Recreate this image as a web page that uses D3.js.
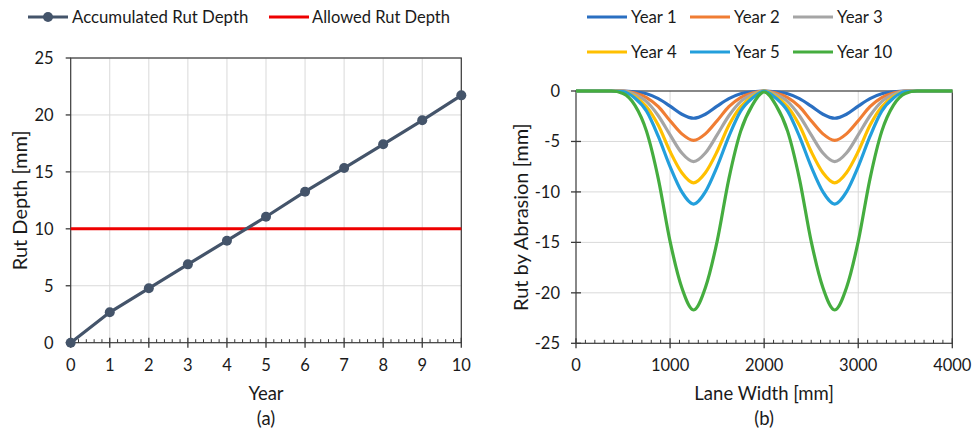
<!DOCTYPE html>
<html><head><meta charset="utf-8">
<script src="https://cdn.jsdelivr.net/npm/d3@7"></script>
<style>
body{margin:0;background:#fff;}
text{font-family:Lato,"Open Sans",sans-serif;fill:#1a1a1a;}
</style></head>
<body><svg id="c" width="973" height="437"></svg>
<script>
// ---- Data (a) ----
const years = [0,1,2,3,4,5,6,7,8,9,10];
const rutDepth = [0,2.67,4.78,6.88,8.96,11.06,13.26,15.34,17.42,19.53,21.72];
const allowedRut = 10;
const yTicksA = [0,5,10,15,20,25];
const xTicksA = [0,1,2,3,4,5,6,7,8,9,10];

// ---- Data (b) ----
const laneWidth = [0,125,250,375,500,625,750,875,1000,1125,1250,1375,1500,1625,1750,1875,2000,
  2125,2250,2375,2500,2625,2750,2875,3000,3125,3250,3375,3500,3625,3750,3875,4000];
const year1 = [0,0,0,0,0,-0.08,-0.27,-0.75,-1.5,-2.3,-2.7,-2.3,-1.5,-0.75,-0.27,-0.08,0,
  -0.08,-0.27,-0.75,-1.5,-2.3,-2.7,-2.3,-1.5,-0.75,-0.27,-0.08,0,0,0,0,0];
const year2 = [0,0,0,0,0,-0.2,-0.65,-1.55,-2.95,-4.25,-4.9,-4.25,-2.95,-1.55,-0.65,-0.2,0,
  -0.2,-0.65,-1.55,-2.95,-4.25,-4.9,-4.25,-2.95,-1.55,-0.65,-0.2,0,0,0,0,0];
const year3 = [0,0,0,0,0,-0.35,-1.05,-2.45,-4.35,-6.15,-7.0,-6.15,-4.35,-2.45,-1.05,-0.35,0,
  -0.35,-1.05,-2.45,-4.35,-6.15,-7.0,-6.15,-4.35,-2.45,-1.05,-0.35,0,0,0,0,0];
const year4 = [0,0,0,0,-0.05,-0.55,-1.55,-3.4,-6.0,-8.1,-9.1,-8.1,-6.0,-3.4,-1.55,-0.55,0,
  -0.55,-1.55,-3.4,-6.0,-8.1,-9.1,-8.1,-6.0,-3.4,-1.55,-0.55,-0.05,0,0,0,0];
const year5 = [0,0,0,0,-0.05,-0.7,-2.0,-4.5,-7.5,-10.0,-11.2,-10.0,-7.5,-4.5,-2.0,-0.7,0,
  -0.7,-2.0,-4.5,-7.5,-10.0,-11.2,-10.0,-7.5,-4.5,-2.0,-0.7,-0.05,0,0,0,0];
const year10 = [0,0,0,0,-0.25,-1.4,-4.0,-8.7,-14.9,-19.5,-21.7,-19.5,-14.9,-8.7,-4.0,-1.4,-0.1,
  -1.4,-4.0,-8.7,-14.9,-19.5,-21.7,-19.5,-14.9,-8.7,-4.0,-1.4,-0.25,0,0,0,0];
const seriesNames = ["Year 1","Year 2","Year 3","Year 4","Year 5","Year 10"];
const seriesColors = ["#2a6fc1","#f07d33","#a5a5a5","#ffc000","#239fdc","#45ad3f"];
const xTicksB = [0,1000,2000,3000,4000];
const yTicksB = [0,-5,-10,-15,-20,-25];

const svg = d3.select("#c");
const gridC = "#d9d9d9", axC = "#3a3a3a";

// ===== Chart (a) =====
const A = {l:70.7, r:461.3, t:58, b:342.7};
const xA = d3.scaleLinear().domain([0,10]).range([A.l,A.r]);
const yA = d3.scaleLinear().domain([0,25]).range([A.b,A.t]);
const ga = svg.append("g");
ga.selectAll(".gx").data(xTicksA.slice(1)).join("line")
  .attr("x1",d=>xA(d)).attr("x2",d=>xA(d)).attr("y1",A.t).attr("y2",A.b)
  .attr("stroke",gridC).attr("stroke-width",1);
ga.selectAll(".gy").data(yTicksA.slice(1)).join("line")
  .attr("x1",A.l).attr("x2",A.r).attr("y1",d=>yA(d)).attr("y2",d=>yA(d))
  .attr("stroke",gridC).attr("stroke-width",1);
ga.append("rect").attr("x",A.l).attr("y",A.t).attr("width",A.r-A.l).attr("height",A.b-A.t)
  .attr("fill","none").attr("stroke",axC).attr("stroke-width",1.2);
const minorA = d3.range(0,10.001,0.2).filter(v=>Math.abs(v-Math.round(v))>1e-6);
ga.selectAll(".mx").data(minorA).join("line")
  .attr("x1",d=>xA(d)).attr("x2",d=>xA(d)).attr("y1",A.b).attr("y2",A.b-3.5)
  .attr("stroke",axC).attr("stroke-width",1);
ga.selectAll(".Mx").data(xTicksA).join("line")
  .attr("x1",d=>xA(d)).attr("x2",d=>xA(d)).attr("y1",A.b-5).attr("y2",A.b+5)
  .attr("stroke",axC).attr("stroke-width",1.3);
ga.selectAll(".My").data(yTicksA).join("line")
  .attr("x1",A.l-5).attr("x2",A.l).attr("y1",d=>yA(d)).attr("y2",d=>yA(d))
  .attr("stroke",axC).attr("stroke-width",1.3);
ga.selectAll(".lx").data(xTicksA).join("text")
  .attr("x",d=>xA(d)).attr("y",371).attr("text-anchor","middle").attr("font-size",16.5).text(d=>d);
ga.selectAll(".ly").data(yTicksA).join("text")
  .attr("x",A.l-17).attr("y",d=>yA(d)+6).attr("text-anchor","end").attr("font-size",16.5).text(d=>d);
ga.append("text").attr("x",(A.l+A.r)/2).attr("y",399.5).attr("text-anchor","middle").attr("font-size",18.5).text("Year");
ga.append("text").attr("x",(A.l+A.r)/2).attr("y",424.5).attr("text-anchor","middle").attr("font-size",18.5).text("(a)");
ga.append("text").attr("transform",`translate(26.5,${(A.t+A.b)/2}) rotate(-90)`)
  .attr("text-anchor","middle").attr("font-size",20).text("Rut Depth [mm]");
ga.append("line").attr("x1",A.l).attr("x2",A.r).attr("y1",yA(allowedRut)).attr("y2",yA(allowedRut))
  .attr("stroke","#ee0000").attr("stroke-width",3);
const lineA = d3.line().x((d,i)=>xA(years[i])).y(d=>yA(d));
ga.append("path").attr("d",lineA(rutDepth)).attr("fill","none").attr("stroke","#44546a").attr("stroke-width",3.2);
ga.selectAll(".pt").data(rutDepth).join("circle")
  .attr("cx",(d,i)=>xA(years[i])).attr("cy",d=>yA(d)).attr("r",5).attr("fill","#44546a");
// legend (a)
ga.append("line").attr("x1",28).attr("x2",68).attr("y1",17).attr("y2",17).attr("stroke","#44546a").attr("stroke-width",3.2);
ga.append("circle").attr("cx",48).attr("cy",17).attr("r",5).attr("fill","#44546a");
ga.append("text").attr("x",72).attr("y",23).attr("font-size",16.8).text("Accumulated Rut Depth");
ga.append("line").attr("x1",269).attr("x2",309).attr("y1",17).attr("y2",17).attr("stroke","#ee0000").attr("stroke-width",3);
ga.append("text").attr("x",312).attr("y",23).attr("font-size",16.5).text("Allowed Rut Depth");

// ===== Chart (b) =====
const B = {l:576, r:952.3, t:91, b:343.3};
const xB = d3.scaleLinear().domain([0,4000]).range([B.l,B.r]);
const yB = d3.scaleLinear().domain([-25,0]).range([B.b,B.t]);
const gb = svg.append("g");
gb.selectAll(".gx").data(xTicksB.slice(1)).join("line")
  .attr("x1",d=>xB(d)).attr("x2",d=>xB(d)).attr("y1",B.t).attr("y2",B.b)
  .attr("stroke",gridC).attr("stroke-width",1);
gb.selectAll(".gy").data(yTicksB.slice(1,-1)).join("line")
  .attr("x1",B.l).attr("x2",B.r).attr("y1",d=>yB(d)).attr("y2",d=>yB(d))
  .attr("stroke",gridC).attr("stroke-width",1);
gb.append("rect").attr("x",B.l).attr("y",B.t).attr("width",B.r-B.l).attr("height",B.b-B.t)
  .attr("fill","none").attr("stroke",axC).attr("stroke-width",1.2);
const minorB = d3.range(0,4000.1,100).filter(v=>v%1000!==0);
gb.selectAll(".mx").data(minorB).join("line")
  .attr("x1",d=>xB(d)).attr("x2",d=>xB(d)).attr("y1",B.b).attr("y2",B.b-3.5)
  .attr("stroke",axC).attr("stroke-width",1);
gb.selectAll(".Mx").data(xTicksB).join("line")
  .attr("x1",d=>xB(d)).attr("x2",d=>xB(d)).attr("y1",B.b-5).attr("y2",B.b+5)
  .attr("stroke",axC).attr("stroke-width",1.3);
gb.selectAll(".My").data(yTicksB).join("line")
  .attr("x1",B.l-5).attr("x2",B.l+5).attr("y1",d=>yB(d)).attr("y2",d=>yB(d))
  .attr("stroke",axC).attr("stroke-width",1.3);
gb.selectAll(".lx").data(xTicksB).join("text")
  .attr("x",d=>xB(d)).attr("y",371).attr("text-anchor","middle").attr("font-size",16.5).text(d=>d);
gb.selectAll(".ly").data(yTicksB).join("text")
  .attr("x",B.l-16).attr("y",d=>yB(d)+6).attr("text-anchor","end").attr("font-size",16.5).text(d=>d);
gb.append("text").attr("x",(B.l+B.r)/2).attr("y",399.5).attr("text-anchor","middle").attr("font-size",18.5).text("Lane Width [mm]");
gb.append("text").attr("x",(B.l+B.r)/2).attr("y",424.5).attr("text-anchor","middle").attr("font-size",18.5).text("(b)");
gb.append("text").attr("transform",`translate(527.5,${(B.t+B.b)/2}) rotate(-90)`)
  .attr("text-anchor","middle").attr("font-size",20).text("Rut by Abrasion [mm]");
const allSeries = [year1,year2,year3,year4,year5,year10];
const lineB = d3.line().x((d,i)=>xB(laneWidth[i])).y(d=>yB(d)).curve(d3.curveMonotoneX);
allSeries.forEach((s,k)=>{
  gb.append("path").attr("d",lineB(s)).attr("fill","none").attr("stroke",seriesColors[k]).attr("stroke-width",3.2);
});
const legX = [587,690,793], legY = [17,52];
seriesNames.forEach((n,k)=>{
  const cx = legX[k%3], cy = legY[Math.floor(k/3)];
  gb.append("line").attr("x1",cx).attr("x2",cx+40).attr("y1",cy).attr("y2",cy).attr("stroke",seriesColors[k]).attr("stroke-width",3.2);
  gb.append("text").attr("x",cx+44).attr("y",cy+6).attr("font-size",16.8).text(n);
});
</script></body></html>
